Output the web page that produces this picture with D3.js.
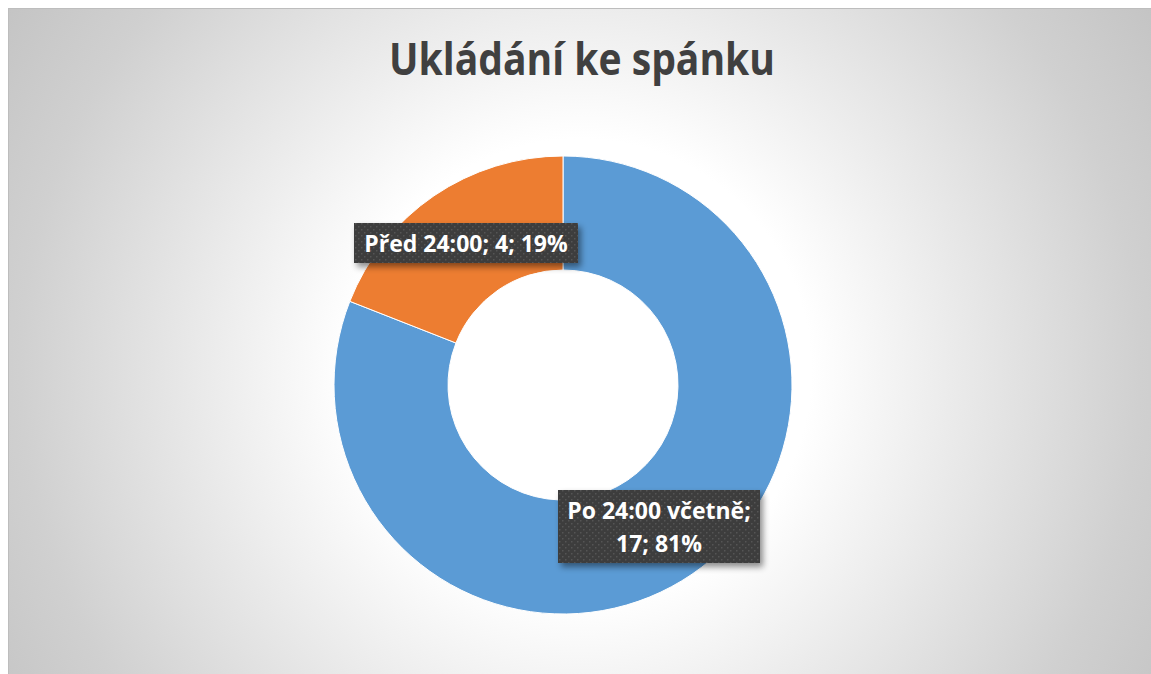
<!DOCTYPE html>
<html>
<head>
<meta charset="utf-8">
<script src="https://cdn.jsdelivr.net/npm/d3@7"></script>
<style>
  html, body { margin: 0; padding: 0; background: #fff; }
  svg { display: block; }
</style>
</head>
<body>
<svg id="chart" width="1151" height="674"></svg>
<script>
// data
const categories = ["Po 24:00 včetně", "Před 24:00"];
const values = [17, 4];
const colors = ["#5B9BD5", "#ED7D31"];
const title = "Ukládání ke spánku";

const width = 1151, height = 674;
const cx = 563, cy = 385, outerR = 229, innerR = 115;

const svg = d3.select("#chart");
const defs = svg.append("defs");

// background gradient
const bg = defs.append("radialGradient")
  .attr("id", "bgGrad")
  .attr("gradientUnits", "userSpaceOnUse")
  .attr("cx", 580).attr("cy", 370).attr("r", 700);
bg.append("stop").attr("offset", 0).attr("stop-color", "#ffffff");
bg.append("stop").attr("offset", 0.33).attr("stop-color", "#ffffff");
bg.append("stop").attr("offset", 0.8).attr("stop-color", "#d0d0d0");
bg.append("stop").attr("offset", 1).attr("stop-color", "#c2c2c2");

// dotted pattern for label boxes
const pat = defs.append("pattern")
  .attr("id", "dots")
  .attr("patternUnits", "userSpaceOnUse")
  .attr("width", 6).attr("height", 6);
pat.append("rect").attr("width", 6).attr("height", 6).attr("fill", "#3d3d3d");
pat.append("rect").attr("x", 1).attr("y", 1).attr("width", 1.5).attr("height", 1.5).attr("fill", "#555");
pat.append("rect").attr("x", 4).attr("y", 4).attr("width", 1.5).attr("height", 1.5).attr("fill", "#555");

const shadow = defs.append("filter").attr("id", "shadow")
  .attr("x", "-20%").attr("y", "-40%").attr("width", "150%").attr("height", "200%");
shadow.append("feDropShadow")
  .attr("dx", 3).attr("dy", 4).attr("stdDeviation", 3)
  .attr("flood-color", "#000").attr("flood-opacity", 0.45);

svg.append("rect")
  .attr("x", 8.5).attr("y", 8.5)
  .attr("width", width).attr("height", height)
  .attr("fill", "url(#bgGrad)")
  .attr("stroke", "#bdbdbd");

// title
svg.append("text")
  .attr("x", 582).attr("y", 75)
  .attr("text-anchor", "middle")
  .attr("font-family", "'Open Sans', sans-serif")
  .attr("font-weight", "bold")
  .attr("font-size", 44)
  .attr("fill", "#404040")
  .attr("textLength", 386)
  .attr("lengthAdjust", "spacingAndGlyphs")
  .text(title);

// donut: first slice clockwise from 12 o'clock
const pie = d3.pie().sort(null).value(d => d);
const arc = d3.arc().innerRadius(innerR).outerRadius(outerR);
const arcs = pie(values);

const g = svg.append("g").attr("transform", `translate(${cx},${cy})`);
g.selectAll("path")
  .data(arcs)
  .join("path")
  .attr("d", arc)
  .attr("fill", (d, i) => colors[i])
  .attr("stroke", "#fff")
  .attr("stroke-width", 1);

// labels
const total = d3.sum(values);
const pct = d3.format(".0%");
const labels = [
  { lines: [categories[0] + ";", values[0] + "; " + pct(values[0] / total)], box: [558, 490, 202, 73] },
  { lines: [categories[1] + "; " + values[1] + "; " + pct(values[1] / total)], box: [354, 223, 224, 40] }
];

const lg = svg.append("g").attr("font-family", "'Open Sans', sans-serif")
  .attr("font-weight", "bold").attr("font-size", 23).attr("fill", "#fff");

labels.forEach(l => {
  const [x, y, w, h] = l.box;
  lg.append("rect")
    .attr("x", x).attr("y", y).attr("width", w).attr("height", h)
    .attr("fill", "url(#dots)")
    .attr("filter", "url(#shadow)");
  const lh = 33;
  const y0 = y + h / 2 - (l.lines.length - 1) * lh / 2 + 8.5;
  l.lines.forEach((t, i) => {
    const txt = lg.append("text")
      .attr("x", x + w / 2).attr("y", y0 + i * lh)
      .attr("text-anchor", "middle")
      .text(t);
    const len = txt.node().getComputedTextLength();
    if (len > w - 18) txt.attr("textLength", w - 18).attr("lengthAdjust", "spacingAndGlyphs");
  });
});
</script>
</body>
</html>
